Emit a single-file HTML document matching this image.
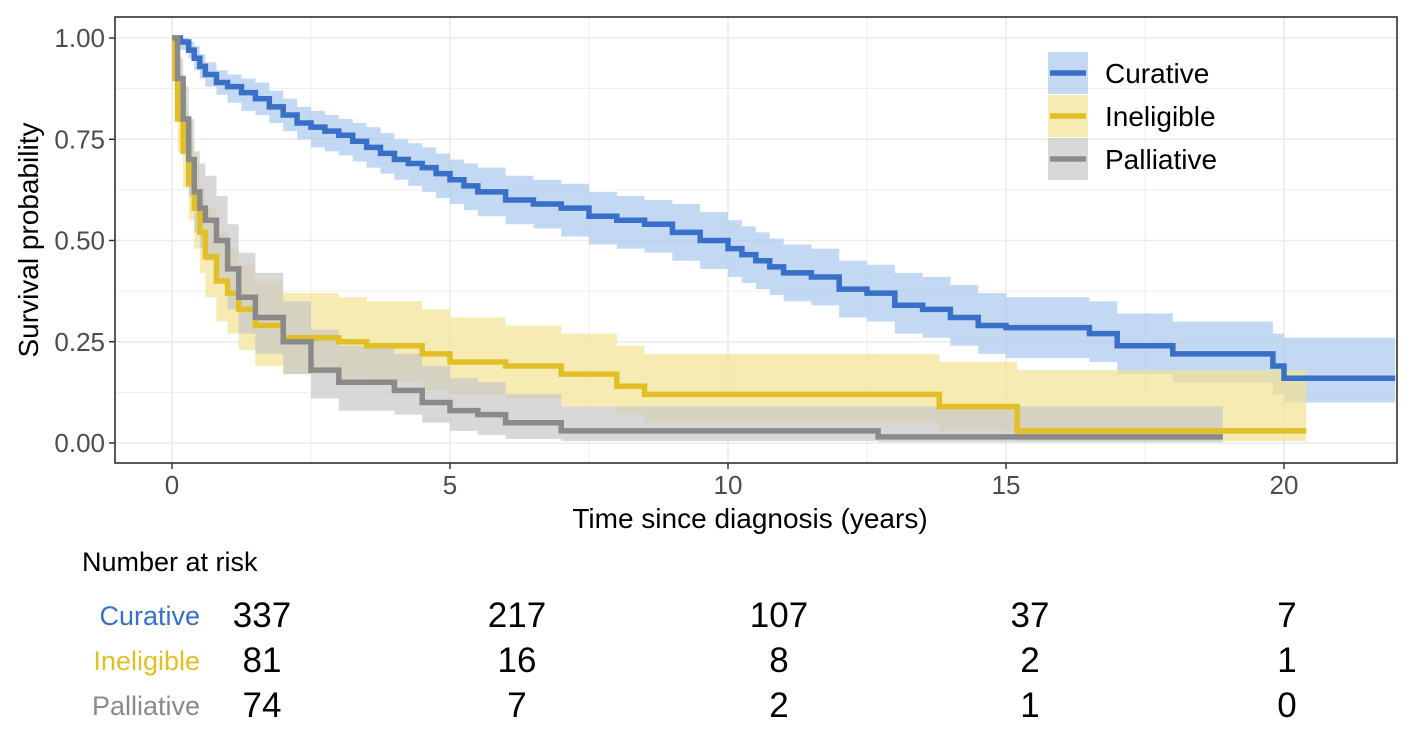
<!DOCTYPE html>
<html><head><meta charset="utf-8"><style>
body{margin:0;background:#fff;}
svg{display:block;font-family:"Liberation Sans",Arial,sans-serif;}
</style></head><body>
<svg id="chart" width="1413" height="734"></svg>
<script>
const xTicks=[0,5,10,15,20];
const yTicks=[0,0.25,0.5,0.75,1];
const yTickLabels=["0.00","0.25","0.50","0.75","1.00"];
const groups=["Curative","Ineligible","Palliative"];
const curT=[0,0.15,0.3,0.4,0.5,0.6,0.8,1,1.25,1.5,1.75,2,2.25,2.5,2.75,3,3.25,3.5,3.75,4,4.25,4.5,4.75,5,5.25,5.5,6,6.5,7,7.5,8,8.5,9,9.5,10,10.25,10.5,10.75,11,11.5,12,12.5,13,13.5,14,14.5,15,16.5,17,18,19.8,20,22];
const curS=[1,0.99,0.97,0.95,0.93,0.91,0.89,0.88,0.865,0.85,0.83,0.81,0.79,0.78,0.77,0.76,0.745,0.73,0.715,0.70,0.69,0.68,0.665,0.65,0.635,0.62,0.60,0.59,0.58,0.56,0.55,0.54,0.52,0.50,0.48,0.465,0.45,0.435,0.42,0.41,0.38,0.37,0.34,0.33,0.31,0.29,0.285,0.27,0.24,0.22,0.19,0.16,0.16];
const curLo=[1,0.97,0.95,0.92,0.90,0.88,0.86,0.84,0.82,0.81,0.79,0.77,0.75,0.73,0.72,0.71,0.695,0.68,0.665,0.65,0.635,0.62,0.605,0.59,0.575,0.56,0.54,0.53,0.51,0.49,0.48,0.47,0.45,0.43,0.41,0.395,0.38,0.365,0.35,0.34,0.31,0.30,0.27,0.26,0.24,0.22,0.21,0.20,0.17,0.15,0.12,0.10,0.10];
const curHi=[1,1,0.99,0.98,0.96,0.94,0.92,0.91,0.90,0.89,0.87,0.85,0.83,0.82,0.81,0.80,0.79,0.78,0.765,0.75,0.74,0.73,0.715,0.70,0.69,0.68,0.66,0.65,0.64,0.62,0.61,0.60,0.59,0.57,0.55,0.535,0.52,0.505,0.49,0.48,0.45,0.44,0.42,0.41,0.39,0.37,0.36,0.35,0.32,0.30,0.27,0.26,0.26];
const ineT=[0,0.05,0.1,0.2,0.3,0.4,0.5,0.6,0.8,1,1.2,1.5,2,3,3.5,4.5,5,6,7,8,8.5,13.8,15.2,20.4];
const ineS=[1,0.9,0.8,0.72,0.64,0.58,0.52,0.46,0.40,0.37,0.33,0.29,0.26,0.25,0.24,0.22,0.20,0.19,0.17,0.14,0.12,0.09,0.03,0.03];
const ineLo=[1,0.83,0.72,0.63,0.55,0.48,0.42,0.36,0.30,0.27,0.23,0.19,0.17,0.16,0.15,0.13,0.12,0.11,0.09,0.07,0.05,0.03,0.005,0.005];
const ineHi=[1,0.96,0.89,0.82,0.75,0.69,0.63,0.58,0.52,0.48,0.44,0.40,0.37,0.36,0.35,0.33,0.31,0.29,0.27,0.24,0.22,0.20,0.18,0.18];
const palT=[0,0.1,0.2,0.3,0.4,0.5,0.6,0.8,1,1.2,1.5,2,2.5,3,4,4.5,5,5.5,6,7,12.7,18.9];
const palS=[1,0.9,0.8,0.7,0.62,0.58,0.55,0.5,0.43,0.36,0.31,0.25,0.18,0.15,0.13,0.10,0.08,0.07,0.05,0.03,0.015,0.015];
const palLo=[1,0.83,0.72,0.61,0.52,0.48,0.45,0.40,0.33,0.27,0.22,0.17,0.11,0.08,0.07,0.05,0.03,0.02,0.01,0.005,0.002,0.002];
const palHi=[1,0.95,0.88,0.80,0.72,0.69,0.66,0.61,0.54,0.47,0.42,0.35,0.28,0.24,0.22,0.19,0.16,0.15,0.12,0.09,0.09,0.09];
const riskRows=[[337,217,107,37,7],[81,16,8,2,1],[74,7,2,1,0]];
const colors=["#3a6fc8","#e3bf27","#8a8a8a"];
const fills=["#a9c7ec","#f2e291","#c8c8c8"];

const NS="http://www.w3.org/2000/svg";
const svg=document.getElementById('chart');
const PL=115,PR=1397,PT=17,PB=463;
const X=t=>172+55.6*t;
const Y=s=>443-405*s;
function el(tag,attrs,parent){const e=document.createElementNS(NS,tag);for(const k in attrs)e.setAttribute(k,attrs[k]);(parent||svg).appendChild(e);return e;}

const grid=el('g',{});


for(let v=0;v<=22;v+=2.5){el('line',{x1:X(v),x2:X(v),y1:PT,y2:PB,stroke:'#ebebeb','stroke-width':(v%5===0)?1.6:0.8},grid);}
for(let v=0;v<=1.0001;v+=0.125){el('line',{x1:PL,x2:PR,y1:Y(v),y2:Y(v),stroke:'#ebebeb','stroke-width':(Math.round(v*8)%2===0)?1.6:0.8},grid);}

function stepPath(T,S){let d=`M${X(T[0])},${Y(S[0])}`;for(let i=1;i<T.length;i++){d+=` H${X(T[i])} V${Y(S[i])}`;}return d;}
function bandPath(T,L,H){let d=`M${X(T[0])},${Y(H[0])}`;for(let i=1;i<T.length;i++)d+=` H${X(T[i])} V${Y(H[i])}`;
 d+=` V${Y(L[L.length-1])}`;for(let i=T.length-1;i>0;i--)d+=` H${X(T[i])} V${Y(L[i-1])}`;d+=` H${X(T[0])} Z`;return d;}
const series=[[curT,curS,curLo,curHi],[ineT,ineS,ineLo,ineHi],[palT,palS,palLo,palHi]];
const names=['curative','ineligible','palliative'];
series.forEach((s,i)=>{
 const b=el('path',{d:bandPath(s[0],s[2],s[3]),fill:fills[i],'fill-opacity':0.7});
 
 
});
series.forEach((s,i)=>{
 const p=el('path',{d:stepPath(s[0],s[1]),fill:'none',stroke:colors[i],'stroke-width':5.5});
 
 
});
const frame=el('rect',{x:PL,y:PT,width:PR-PL,height:PB-PT,fill:'none',stroke:'#222','stroke-width':1.5});



yTicks.forEach((v,i)=>{
 el('line',{x1:PL-6,x2:PL,y1:Y(v),y2:Y(v),stroke:'#333','stroke-width':1.5});
 const t=el('text',{x:PL-10,y:Y(v)+9,'text-anchor':'end','font-size':26,fill:'#4d4d4d'});t.textContent=yTickLabels[i];
 
 
});
xTicks.forEach(v=>{
 el('line',{x1:X(v),x2:X(v),y1:PB,y2:PB+6,stroke:'#333','stroke-width':1.5});
 const t=el('text',{x:X(v),y:PB+31,'text-anchor':'middle','font-size':26,fill:'#4d4d4d'});t.textContent=v;
 
 
});
let t=el('text',{x:750,y:528,'text-anchor':'middle','font-size':28,fill:'#000'});t.textContent='Time since diagnosis (years)';


t=el('text',{x:38,y:240,'text-anchor':'middle','font-size':28,fill:'#000',transform:'rotate(-90 38 240)'});t.textContent='Survival probability';



groups.forEach((g,i)=>{
 const cy=73+43*i;
 const lg=el('g',{});
 
 
 el('rect',{x:1048,y:cy-21,width:40,height:42,fill:fills[i],'fill-opacity':0.7},lg);
 el('line',{x1:1050,x2:1086,y1:cy,y2:cy,stroke:colors[i],'stroke-width':5.5},lg);
 const tx=el('text',{x:1105,y:cy+10,'font-size':28,fill:'#000'},lg);tx.textContent=g;
});

t=el('text',{x:82,y:571,'font-size':27,fill:'#000'});t.textContent='Number at risk';


const riskX=[262,517,779,1030,1287];
groups.forEach((g,i)=>{
 const cy=627+45*i;
 const lb=el('text',{x:200,y:cy-2,'text-anchor':'end','font-size':27,fill:colors[i]});lb.textContent=g;
 
 
 riskRows[i].forEach((n,j)=>{
  const c=el('text',{x:riskX[j],y:cy,'text-anchor':'middle','font-size':35,fill:'#000'});c.textContent=n;
  
  
 });
});
</script>
</body></html>
